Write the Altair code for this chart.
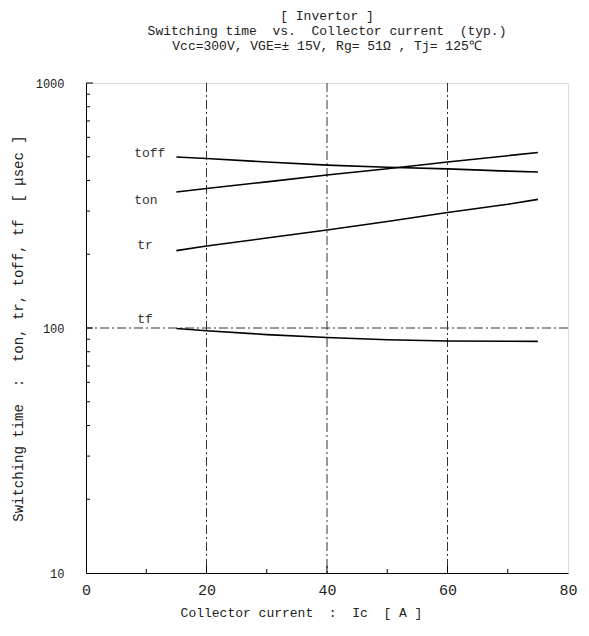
import altair as alt
import pandas as pd

# ---- data ----
current = [15, 20, 30, 40, 50, 60, 70, 75]
toff = [499, 492, 476, 462, 453, 446, 437, 433]
ton = [359, 371, 395, 421, 447, 476, 505, 520]
tr = [207, 216, 233, 251, 272, 296, 320, 335]
tf = [99.5, 97.5, 94, 91.5, 89.5, 88.5, 88.3, 88.2]

label_names = ["toff", "ton", "tr", "tf"]
label_x = [8.0, 8.0, 8.5, 8.5]
label_y = [518, 333, 218, 109]

grid_x = [20, 40, 60]
grid_y = [100]
minor_y = [20, 30, 40, 50, 60, 70, 80, 90, 200, 300, 400, 500, 600, 700, 800, 900]
major_y = [100, 1000]
minor_x = [10, 30, 50, 70]
major_x = [20, 40, 60]

x_ticks = [0, 20, 40, 60, 80]
y_ticks = [10, 100, 1000]

FONT = "Liberation Mono"
S = "\u00a0"  # non-breaking space keeps the wide spacing of the original

title_lines = [
    "[" + S + "Invertor" + S + "]",
    "Switching" + S + "time" + S * 2 + "vs." + S * 2 + "Collector" + S + "current" + S * 2 + "(typ.)",
    "Vcc=300V," + S + "VGE=±" + S + "15V," + S + "Rg=" + S + "51Ω" + S + "," + S + "Tj=" + S + "125℃",
]
x_title = "Collector" + S + "current" + S * 2 + ":" + S * 2 + "Ic" + S * 2 + "[" + S + "A" + S + "]"
y_title = ("Switching" + S + "time" + S * 2 + ":" + S * 2 + "ton," + S + "tr," + S + "toff," + S
           + "tf" + S * 2 + "[" + S + "μsec" + S + "]")

rows = []
for name, vals in [("toff", toff), ("ton", ton), ("tr", tr), ("tf", tf)]:
    for c, v in zip(current, vals):
        rows.append({"series": name, "Ic": c, "t": v})
df = pd.DataFrame(rows)

xs = alt.Scale(domain=[0, 80], nice=False, zero=False)
ys = alt.Scale(type="log", domain=[10, 1000], nice=False)

lines = alt.Chart(df).mark_line(color="black", strokeWidth=1.6).encode(
    x=alt.X("Ic:Q", scale=xs,
            axis=alt.Axis(values=x_ticks, title=x_title,
                          grid=False, ticks=False, labelPadding=9,
                          labelFontSize=15, titleFontSize=13, titlePadding=9,
                          titleX=215, titleAlign="center",
                          labelFont=FONT, titleFont=FONT, titleFontWeight="normal",
                          labelColor="#222", titleColor="#222",
                          domainColor="black", labelFlush=False)),
    y=alt.Y("t:Q", scale=ys,
            axis=alt.Axis(values=y_ticks, format="d",
                          title=y_title,
                          grid=False, ticks=False, labelPadding=22,
                          labelFontSize=12, titleFontSize=14, titlePadding=10,
                          labelFont=FONT, titleFont=FONT, titleFontWeight="normal",
                          labelColor="#222", titleColor="#222",
                          domainColor="black", labelFlush=False)),
    detail="series:N",
)

dash = [9, 3, 2, 3]
vgrid = alt.Chart(pd.DataFrame({"g": grid_x})).mark_rule(
    color="#333", strokeWidth=1, strokeDash=dash).encode(x=alt.X("g:Q", scale=xs))
hgrid = alt.Chart(pd.DataFrame({"g": grid_y})).mark_rule(
    color="#333", strokeWidth=1, strokeDash=dash).encode(y=alt.Y("g:Q", scale=ys))

ytick_minor = alt.Chart(pd.DataFrame({"v": minor_y})).mark_rule(
    color="black", strokeWidth=1).encode(
    y=alt.Y("v:Q", scale=ys), x=alt.value(0), x2=alt.value(4))
ytick_major = alt.Chart(pd.DataFrame({"v": major_y})).mark_rule(
    color="black", strokeWidth=1).encode(
    y=alt.Y("v:Q", scale=ys), x=alt.value(0), x2=alt.value(7))
xtick_minor = alt.Chart(pd.DataFrame({"v": minor_x})).mark_rule(
    color="black", strokeWidth=1).encode(
    x=alt.X("v:Q", scale=xs), y=alt.value(490), y2=alt.value(486))
xtick_major = alt.Chart(pd.DataFrame({"v": major_x})).mark_rule(
    color="black", strokeWidth=1).encode(
    x=alt.X("v:Q", scale=xs), y=alt.value(490), y2=alt.value(483))

labels = alt.Chart(pd.DataFrame({"name": label_names, "x": label_x, "y": label_y})).mark_text(
    align="left", baseline="middle", font=FONT, fontSize=13, color="#333").encode(
    x=alt.X("x:Q", scale=xs), y=alt.Y("y:Q", scale=ys), text="name:N")

chart = alt.layer(vgrid, hgrid, lines, ytick_minor, ytick_major,
                  xtick_minor, xtick_major, labels).properties(
    width=482, height=490,
    autosize=alt.AutoSizeParams(type="none"),
    padding={"left": 78, "top": 75, "right": 13, "bottom": 55},
    title=alt.TitleParams(
        text=title_lines,
        font=FONT, fontSize=13, fontWeight="normal", color="#222",
        anchor="middle", lineHeight=15, offset=11, baseline="bottom"),
).configure_view(stroke="black", strokeWidth=1.2).configure(background="white")

chart.save("out.html", embed_options={"renderer": "svg", "actions": False})
